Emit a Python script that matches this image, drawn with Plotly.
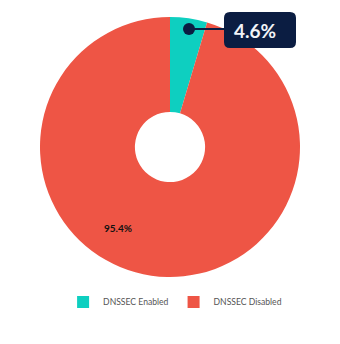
import plotly.graph_objects as go

labels = ["DNSSEC Enabled", "DNSSEC Disabled"]
values = [4.6, 95.4]
colors = ["#0ECFC0", "#EE5545"]
callout_text = "4.6%"
inside_text = "95.4%"

W, H = 340, 344

def px(x):
    return x / W

def py(y):
    return 1 - y / H

fig = go.Figure(go.Pie(
    labels=labels, values=values, marker=dict(colors=colors, line=dict(width=0)),
    hole=0.27, sort=False, direction="clockwise", rotation=0,
    textinfo="none", hoverinfo="label+percent",
    domain=dict(x=[px(40), px(300)], y=[py(277), py(17)]),
))

# rounded rect callout box
x0, x1, y0, y1, r = 224, 296, 12, 48, 6
path = (f"M {px(x0+r)},{py(y0)} L {px(x1-r)},{py(y0)} Q {px(x1)},{py(y0)} {px(x1)},{py(y0+r)} "
        f"L {px(x1)},{py(y1-r)} Q {px(x1)},{py(y1)} {px(x1-r)},{py(y1)} "
        f"L {px(x0+r)},{py(y1)} Q {px(x0)},{py(y1)} {px(x0)},{py(y1-r)} "
        f"L {px(x0)},{py(y0+r)} Q {px(x0)},{py(y0)} {px(x0+r)},{py(y0)} Z")
dark = "#0B1D42"
fig.add_shape(type="path", path=path, xref="paper", yref="paper", fillcolor=dark, line=dict(width=0))
fig.add_shape(type="line", xref="paper", yref="paper", x0=px(189), x1=px(225), y0=py(29), y1=py(29),
              line=dict(color=dark, width=2))
fig.add_shape(type="circle", xref="paper", yref="paper", x0=px(183), x1=px(195), y0=py(35), y1=py(23),
              fillcolor=dark, line=dict(width=0))
fig.add_annotation(x=px(255), y=py(30), xref="paper", yref="paper", text=f"<b>{callout_text}</b>",
                   xanchor="center", yanchor="middle",
                   showarrow=False, font=dict(family="Lato", size=19, color="#F2F4F8"))
fig.add_annotation(x=px(118), y=py(228), xref="paper", yref="paper", text=f"<b>{inside_text}</b>",
                   xanchor="center", yanchor="middle",
                   showarrow=False, font=dict(family="Lato", size=10, color="#111111"))

fig.update_layout(
    width=W, height=H, margin=dict(l=0, r=0, t=0, b=0),
    paper_bgcolor="white", plot_bgcolor="white",
    showlegend=True,
    legend=dict(orientation="h", x=0.515, xanchor="center", y=py(302), yanchor="middle",
                font=dict(family="Lato", size=8.6, color="#555555"), itemwidth=30,
                tracegroupgap=0),
)

fig.write_html("out.html")
